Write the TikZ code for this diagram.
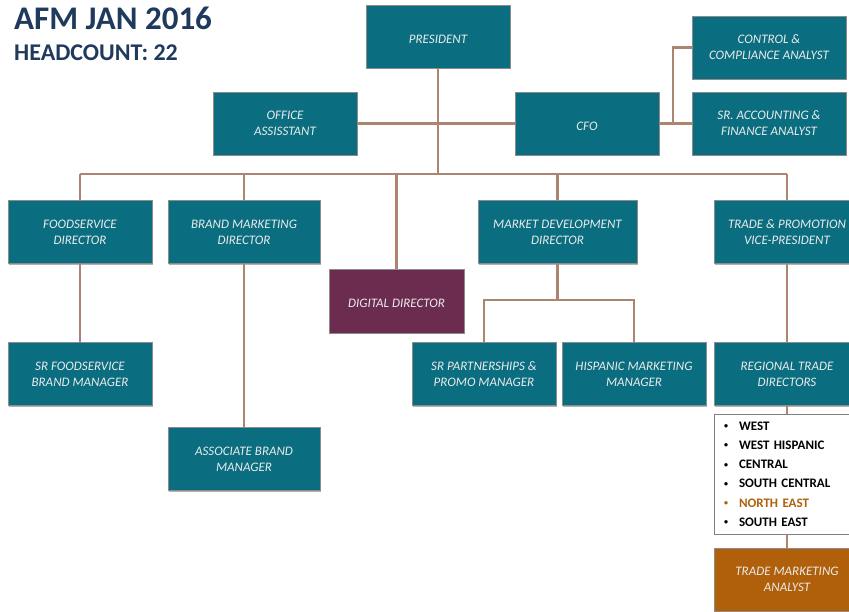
\documentclass[tikz,border=0pt]{standalone}
\usepackage{fontspec}
\setmainfont{Carlito}
\usetikzlibrary{shadows}
\definecolor{boxteal}{HTML}{0A6E80}
\definecolor{boxplum}{HTML}{6B2C50}
\definecolor{boxrust}{HTML}{B0600A}
\definecolor{linktan}{HTML}{AD8470}
\definecolor{titleblue}{HTML}{1F3A5C}
\newcommand{\regionitem}[1]{\makebox[15pt][l]{\raisebox{1.5pt}{\fontsize{8}{8}\selectfont•}}#1}

\begin{document}
\begin{tikzpicture}[x=1pt, y=-1pt,
  post/.style={draw=black!45, line width=.6pt, fill=boxteal, text=white!92!black,
    font=\fontsize{13}{16}\selectfont\itshape, align=center,
    minimum width=144pt, minimum height=63pt, inner sep=2pt,
    execute at begin node={\rule{0pt}{13.5pt}},
    drop shadow={shadow xshift=1pt, shadow yshift=-1pt, opacity=.3, fill=black}},
  link/.style={draw=linktan, line width=2.2pt},
  regionlist/.style={draw=black!50, line width=.6pt, fill=white, text width=126pt,
    inner xsep=10pt, minimum height=120pt, align=left,
    font=\fontsize{13}{19.2}\selectfont\bfseries}]
\clip (0,0) rectangle (849,611);
\node[anchor=base west, text=titleblue, font=\fontsize{33}{36}\selectfont\bfseries, inner sep=0] (ttl) at (14,29) {AFM JAN 2016};
\node[anchor=base west, text=titleblue, font=\fontsize{24}{26}\selectfont\bfseries, inner sep=0] (hc) at (14,60) {HEADCOUNT: 22};

\node[post] (pres) at (438,36.5) {PRESIDENT};
\node[post] (oa) at (285,123.5) {OFFICE\\ ASSISSTANT};
\node[post] (cfo) at (587,123.5) {CFO};
\node[post, minimum width=154pt] (cca) at (769,47.5) {CONTROL \&\\ COMPLIANCE ANALYST};
\node[post, minimum width=154pt] (sra) at (769,123.5) {SR. ACCOUNTING \&\\ FINANCE ANALYST};

\node[post] (fsd) at (80,232) {FOODSERVICE\\ DIRECTOR};
\node[post, minimum width=152pt] (bmd) at (244,232) {BRAND MARKETING\\ DIRECTOR};
\node[post, fill=boxplum, minimum width=135pt, minimum height=64pt] (dig) at (396.5,301) {DIGITAL DIRECTOR};
\node[post, minimum width=159pt] (mdd) at (557.5,232) {MARKET DEVELOPMENT\\ DIRECTOR};
\node[post, minimum width=146pt] (tpv) at (787,232) {TRADE \& PROMOTION\\ VICE-PRESIDENT};

\node[post] (sfb) at (80,374) {SR FOODSERVICE\\ BRAND MANAGER};
\node[post, minimum width=152pt] (abm) at (244,459) {ASSOCIATE BRAND\\ MANAGER};
\node[post] (spm) at (484,374) {SR PARTNERSHIPS \&\\ PROMO MANAGER};
\node[post] (hmm) at (634,374) {HISPANIC MARKETING\\ MANAGER};
\node[post, minimum width=146pt] (rtd) at (787,374) {REGIONAL TRADE\\ DIRECTORS};
\node[regionlist] (reg) at (787,474) {%
  \regionitem{WEST}\\
  \regionitem{WEST HISPANIC}\\
  \regionitem{CENTRAL}\\
  \regionitem{SOUTH CENTRAL}\\
  \textcolor{boxrust}{\regionitem{NORTH EAST}}\\
  \regionitem{SOUTH EAST}};
\node[post, fill=boxrust, minimum width=146pt] (tma) at (787,579.5) {TRADE MARKETING\\ ANALYST};

\coordinate (bus) at (438,174);
\coordinate (cfoj) at (673,123.5);
\coordinate (mdj) at (557.5,300);
\draw[link] (pres.south) -- (bus);
\draw[link] (fsd.north |- bus) -- (tpv.north |- bus);
\foreach \n in {fsd,bmd,dig,mdd,tpv}
  \draw[link] (\n.north) -- (\n.north |- bus);
\draw[link] (oa.east) -- (cfo.west);
\draw[link] (cfo.east) -- (sra.west);
\draw[link] (cfoj) |- (cca.west);
\draw[link] (fsd.south) -- (sfb.north);
\draw[link] (bmd.south) -- (abm.north);
\draw[link] (mdd.south) -- (mdj);
\draw[link] (spm.north) |- (mdj) -| (hmm.north);
\draw[link] (tpv.south) -- (rtd.north);
\draw[link] (rtd.south) -- (reg.north);
\draw[link] (reg.south) -- (tma.north);
\end{tikzpicture}
\end{document}
